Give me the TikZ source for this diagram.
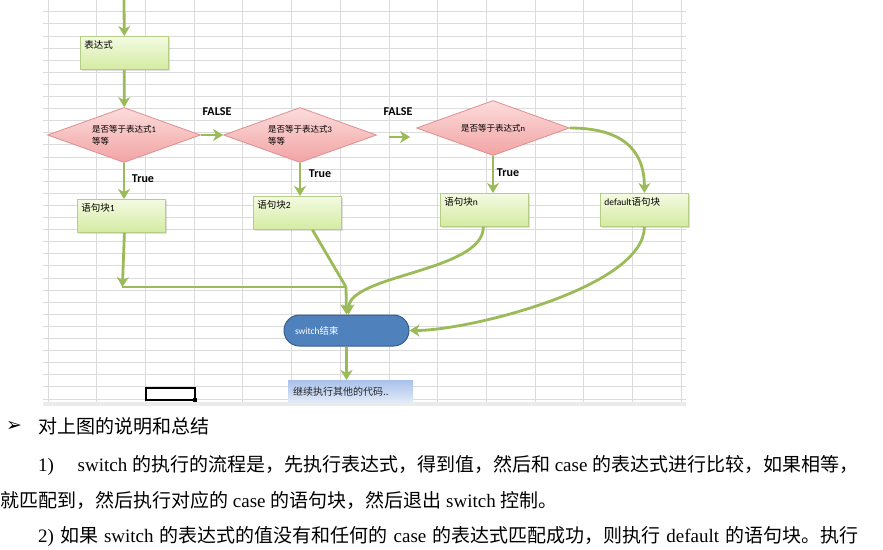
\documentclass[tikz,border=0pt]{standalone}
\usepackage{fontspec}
\setmainfont{Noto Sans CJK SC}
\newfontfamily\tnr{Liberation Serif}
\newfontfamily\calib{Carlito}
\newfontfamily\symfont{DejaVu Sans}
\usetikzlibrary{shapes.geometric, arrows.meta, shadows}

\definecolor{flowgreen}{HTML}{9BBB59}
\definecolor{boxtop}{HTML}{F3FAE2}
\definecolor{boxbot}{HTML}{D5EBA2}
\definecolor{boxline}{HTML}{B4CF85}
\definecolor{diatop}{HTML}{FCDCDC}
\definecolor{diabot}{HTML}{F2A3A3}
\definecolor{dialine}{HTML}{DE8E8E}
\definecolor{endblue}{HTML}{4F81BD}
\definecolor{endline}{HTML}{385D8A}
\definecolor{conttop}{HTML}{A9C1EA}
\definecolor{contbot}{HTML}{E2EAF7}

\begin{document}
\begin{tikzpicture}[x=1pt, y=-1pt,
  flow/.style={draw=flowgreen, line width=2.8pt, -{Stealth[length=10pt,width=12pt,inset=3pt]}},
  link/.style={draw=flowgreen, line width=2.8pt},
  stmt/.style={rectangle, draw=boxline, line width=0.8pt, top color=boxtop, bottom color=boxbot,
    drop shadow={opacity=0.25, shadow xshift=1.5pt, shadow yshift=-1.5pt},
    text width=80pt, inner sep=4pt, align=left, text height=8pt, text depth=17pt,
    font=\fontsize{9.5}{11}\selectfont},
  test/.style={diamond, aspect=2.8, draw=dialine, line width=0.8pt, top color=diatop, bottom color=diabot,
    minimum width=153pt, minimum height=55pt, inner sep=0pt, align=left,
    font=\fontsize{8.5}{12}\selectfont},
  tag/.style={font=\calib\bfseries\fontsize{12}{12}\selectfont},
  gridline/.style={draw=black!14, line width=0.8pt},
  body/.style={anchor=west, inner sep=0pt, font=\fontsize{19}{20}\selectfont}]

  \useasboundingbox (0,0) rectangle (883,549);

  % Sheet grid
  \foreach \k in {0,...,32}
    \draw[gridline] (43,11.7+12.1*\k) -- (686,11.7+12.1*\k);
  \foreach \i in {0,...,13}
    \draw[gridline] (48+48.7*\i,0) -- (48+48.7*\i,402);
  \fill[black!8] (43,402) rectangle (686,406);

  % Selected cell
  \draw[line width=2pt] (146,388) rectangle (195,400);
  \fill (193,398) rectangle (197,402);

  % Blocks
  \node[stmt, anchor=north west] (expr) at (80,36) {表达式};
  \node[test] (d1) at (124,135) {是否等于表达式{\calib 1}\\等等};
  \node[test] (d2) at (300,135) {是否等于表达式{\calib 3}\\等等};
  \node[test] (dn) at (493,128) {是否等于表达式{\calib n}};
  \node[stmt, anchor=north west] (b1) at (77,199) {语句块{\calib 1}};
  \node[stmt, anchor=north west] (b2) at (253,196) {语句块{\calib 2}};
  \node[stmt, anchor=north west] (bn) at (440,193) {语句块{\calib n}};
  \node[stmt, anchor=north west] (dflt) at (600,193) {{\calib default}语句块};
  \node[rectangle, rounded corners=15.5pt, fill=endblue, draw=endline, line width=1pt,
    text width=103pt, inner xsep=11pt, minimum height=31pt, align=left, text=white,
    font=\fontsize{9.5}{11}\selectfont] (end) at (346.5,330.5) {{\calib switch}结束};
  \node[rectangle, top color=conttop, bottom color=contbot, anchor=north west,
    text width=115pt, inner xsep=5pt, minimum height=22pt, align=left, text=black!85,
    font=\fontsize{10}{11}\selectfont] (cont) at (288,380) {继续执行其他的代码..};

  % Labels
  \node[tag] (f1) at (217,112) {FALSE};
  \node[tag] (f2) at (398,112) {FALSE};
  \node[tag] (t1) at (143,179) {True};
  \node[tag] (t2) at (320,174) {True};
  \node[tag] (tn) at (508,173) {True};

  \coordinate (top) at (124,0);
  \coordinate (merge) at (346,287);

  % Connectors
  \draw[flow] (top) -- (expr);
  \draw[flow] (expr) -- (d1);
  \draw[flow] (d1.east) -- (d2.west);
  \draw[flow, shorten <=12pt, shorten >=6pt] ([yshift=-2pt]d2.east) -- ([yshift=-2pt]d2.east -| dn.west);
  \draw[flow] (d1.south) -- (d1.south |- b1.north);
  \draw[flow] (d2.south) -- (d2.south |- b2.north);
  \draw[flow] (dn.south) -- (dn.south |- bn.north);
  \draw[flow] (dn.east) .. controls +(50,0) and +(0,-45) .. (dflt.north);
  \draw[flow] ([xshift=3pt]b1.south) -- ([xshift=1pt]b1.south |- merge);
  \draw[link] ([xshift=1pt]b1.south |- merge) -- (merge);
  \draw[link] ([xshift=15pt]b2.south) -- (merge);
  \draw[flow] (merge) -- (end.north);
  \draw[flow] ([xshift=-1pt]bn.south) .. controls +(0,45) and +(0,-40) .. ([xshift=2pt]end.north);
  \draw[flow] (dflt.south) .. controls +(0,60) and +(60,0) .. (end.east);
  \draw[flow] (end.south) -- (cont.north -| end.south);

  % Notes
  \node[body] (bullet) at (6,426) {\symfont\fontsize{19}{19}\selectfont ➢};
  \node[body] (head) at (38,426) {对上图的说明和总结};
  \node[body] (line1) at (38,465) {\makebox[820pt][l]{{\tnr 1)}\hfill{\tnr switch }的执行的流程是，先执行表达式，得到值，然后和{\tnr\ case }的表达式进行比较，如果相等，}};
  \node[body] (line2) at (0,500) {就匹配到，然后执行对应的{\tnr\ case }的语句块，然后退出{\tnr\ switch }控制。};
  \node[body] (line3) at (38,536) {\makebox[820pt][s]{{\tnr 2) }如果{\tnr\ switch }的表达式的值没有和任何的{\tnr\ case }的表达式匹配成功，则执行{\tnr\ default }的语句块。执行}};

\end{tikzpicture}
\end{document}
